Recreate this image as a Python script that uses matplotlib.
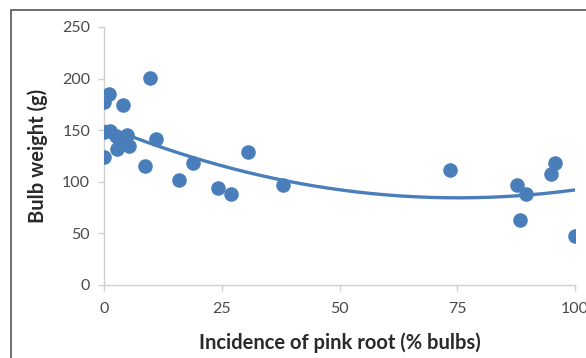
import numpy as np
import matplotlib
matplotlib.use('Agg')
import matplotlib.pyplot as plt
from matplotlib.patches import Rectangle

plt.rcParams['font.family'] = ['Lato', 'DejaVu Sans']

# incidence of pink root (% bulbs) and bulb weight (g)
incidence = [0, 1.1, 4.1, 9.8, 0, 1.3, 2.5, 4.8, 2.8, 5.4, 0, 3.5,
             11, 8.8, 16, 19, 24.3, 26.9, 30.5, 38,
             73.5, 87.6, 89.7, 88.3, 95, 95.8, 100]
weight = [177, 185, 174, 201, 148, 149, 144, 145, 132, 135, 124, 140,
          141, 115, 102, 118, 94, 88, 129, 97,
          111, 97, 88, 63, 108, 118, 47]

blue = '#4a7ebb'

fig = plt.figure(figsize=(5.86, 3.58), dpi=100)
fig.patches.append(Rectangle((11 / 586, -0.1), 1.2, 1.1 - 10 / 358, transform=fig.transFigure,
                             fill=False, edgecolor='#555555', linewidth=1.2))
ax = fig.add_axes([104 / 586, 1 - 285 / 358, 471 / 586, 258 / 358])

ax.scatter(incidence, weight, s=110, color=blue, zorder=3, linewidths=0)

# second order trendline, as in the original
coef = np.polyfit(incidence, weight, 2)
xs = np.linspace(0, 100, 200)
ax.plot(xs, np.polyval(coef, xs), color=blue, linewidth=2.4, zorder=2)

ax.set_xlim(0, 100)
ax.set_ylim(0, 250)
ax.set_xticks([0, 25, 50, 75, 100])
ax.set_yticks([0, 50, 100, 150, 200, 250])
for s in ['top', 'right']:
    ax.spines[s].set_visible(False)
for s in ['left', 'bottom']:
    ax.spines[s].set_color('#d0d0d0')
    ax.spines[s].set_linewidth(1)
ax.tick_params(colors='#d0d0d0', labelcolor='#4a4a4a', labelsize=11.5, length=4, width=1)
ax.tick_params(axis='x', pad=8)
ax.tick_params(axis='y', pad=6)
for lab in ax.get_xticklabels() + ax.get_yticklabels():
    lab.set_clip_on(False)

ax.set_xlabel('Incidence of pink root (% bulbs)', fontsize=14.5, fontweight='bold', color='#2a2a2a', labelpad=12)
ax.set_ylabel('Bulb weight (g)', fontsize=14.5, fontweight='bold', color='#2a2a2a', labelpad=10)

fig.savefig('out.png', dpi=100)
